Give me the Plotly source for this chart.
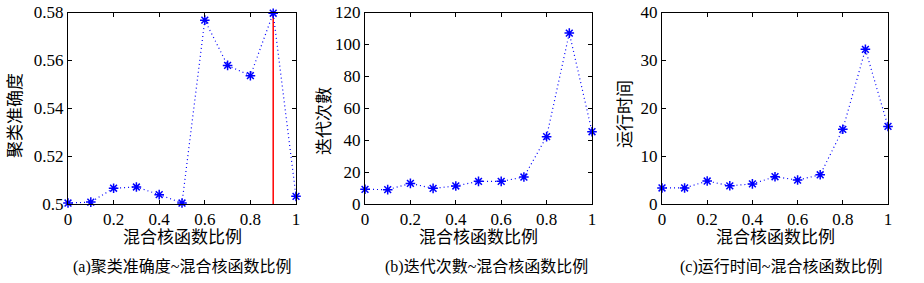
import plotly.graph_objects as go

ratio = [0, 0.1, 0.2, 0.3, 0.4, 0.5, 0.6, 0.7, 0.8, 0.9, 1.0]
accuracy = [0.5004, 0.5008, 0.5066, 0.5071, 0.5039, 0.5004, 0.5768, 0.5579, 0.5536, 0.5797, 0.5032]
iterations = [9.2, 9.0, 12.9, 9.8, 11.3, 14.2, 14.2, 16.9, 42.2, 107.1, 45.3]
runtime = [3.35, 3.35, 4.8, 3.8, 4.2, 5.7, 5.0, 6.1, 15.6, 32.3, 16.2]
best_x = [0.9, 0.9]
best_y = [0.5, 0.58]

xtitle = "混合核函数比例"
ytitles = ["聚类准确度", "迭代次數", "运行时间"]
captions = ["(a)聚类准确度~混合核函数比例", "(b)迭代次數~混合核函数比例", "(c)运行时间~混合核函数比例"]
yranges = [[0.5, 0.58], [0, 120], [0, 40]]
ydticks = [0.02, 20, 10]

W, H = 924, 283
FONT = "Liberation Serif"
CJK = "Liberation Serif, Noto Sans CJK SC"

boxes = [(68, 296), (365, 592), (662, 888)]
top_px, bot_px = 12.5, 204

fig = go.Figure()
series = [accuracy, iterations, runtime]
for i, ys in enumerate(series):
    xa = "x" if i == 0 else f"x{i+1}"
    ya = "y" if i == 0 else f"y{i+1}"
    if i == 0:
        fig.add_trace(go.Scatter(x=best_x, y=best_y, mode="lines",
                                 line=dict(color="red", width=1.5),
                                 xaxis=xa, yaxis=ya, showlegend=False, cliponaxis=False))
    fig.add_trace(go.Scatter(x=ratio, y=ys, mode="lines+markers",
                             line=dict(color="blue", width=1.2, dash="1px,3px"),
                             marker=dict(symbol="asterisk-open", size=8,
                                         line=dict(color="blue", width=1.5)),
                             xaxis=xa, yaxis=ya, showlegend=False, cliponaxis=False))

layout = dict(template="none", width=W, height=H, margin=dict(l=0, r=0, t=0, b=0),
              paper_bgcolor="white", plot_bgcolor="white",
              font=dict(family=FONT, size=17, color="black"))
ann = []
for i, (l, r) in enumerate(boxes):
    sfx = "" if i == 0 else str(i + 1)
    common = dict(ticks="inside", ticklen=4, tickcolor="black", tickwidth=1,
                  showline=True, linecolor="black", linewidth=1, mirror="ticks",
                  showgrid=False, zeroline=False, automargin=False,
                  tickfont=dict(family=FONT, size=17, color="black"))
    layout["xaxis" + sfx] = dict(
        domain=[l / W, r / W], anchor="y" + sfx, range=[0, 1],
        tickmode="linear", tick0=0, dtick=0.2, **common)
    layout["yaxis" + sfx] = dict(
        domain=[1 - bot_px / H, 1 - top_px / H], anchor="x" + sfx,
        range=yranges[i], tickmode="linear", tick0=yranges[i][0], dtick=ydticks[i], **common)
    cx = (l + r) / 2
    ann.append(dict(text=xtitle, x=cx / W, y=1 - 237 / H, xref="paper", yref="paper",
                    showarrow=False, font=dict(family=CJK, size=17, color="black"),
                    xanchor="center", yanchor="middle"))
    ylx = [15, 325, 625][i]
    yly = [116, 121, 114][i]
    ann.append(dict(text=ytitles[i], x=ylx / W, y=1 - yly / H, xref="paper", yref="paper",
                    showarrow=False, textangle=-90, font=dict(family=CJK, size=17, color="black"),
                    xanchor="center", yanchor="middle"))
    capx = [182, 486, 781][i]
    ann.append(dict(text=captions[i], x=capx / W, y=1 - 267 / H, xref="paper", yref="paper",
                    showarrow=False, font=dict(family=CJK, size=16, color="black"),
                    xanchor="center", yanchor="middle"))
layout["annotations"] = ann
fig.update_layout(**layout)
fig.write_html("out.html", config={"displayModeBar": False},
               post_script="document.body.style.margin='0';document.body.style.padding='0';")
